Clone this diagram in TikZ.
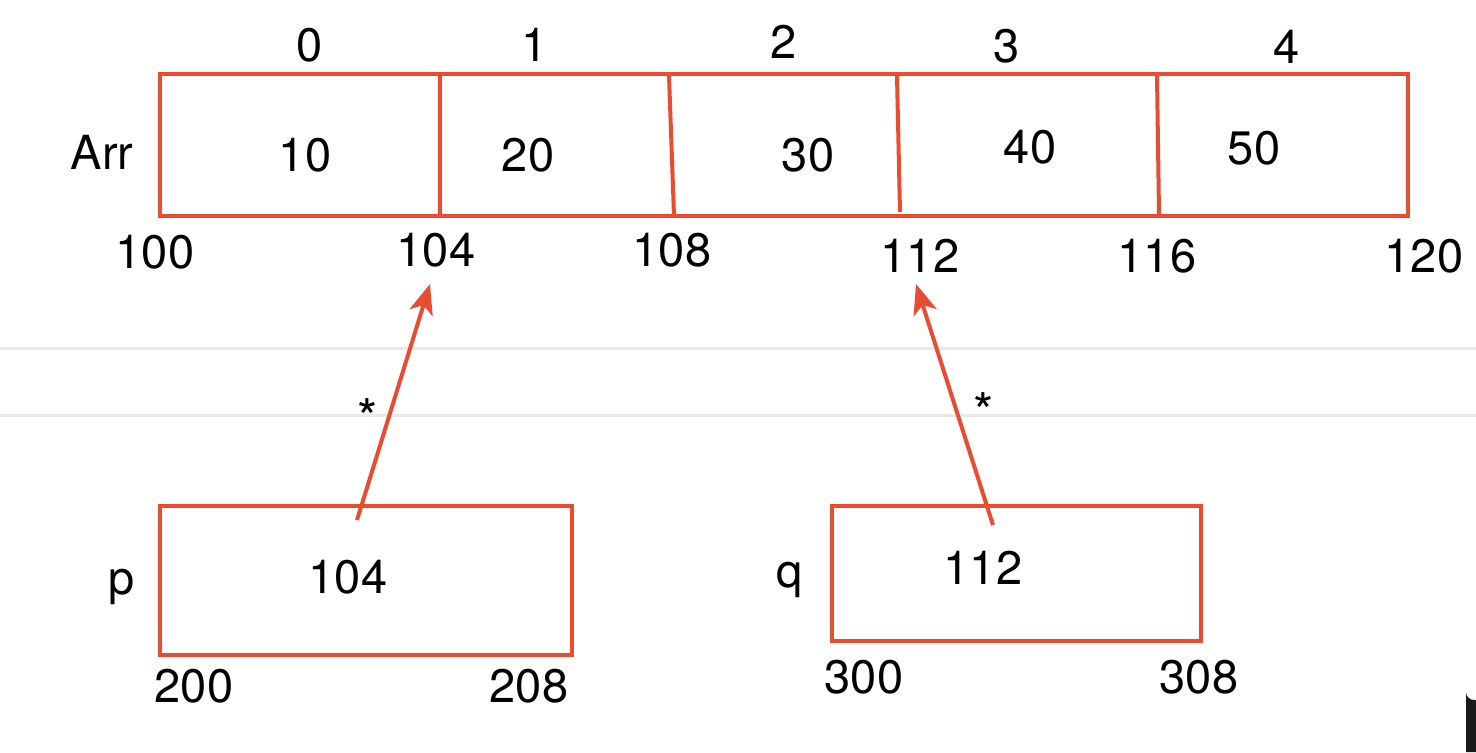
\documentclass[tikz,border=0pt]{standalone}
\usepackage{fontspec}
\setmainfont{TeX Gyre Heros}
\usetikzlibrary{arrows.meta}
\definecolor{boxred}{RGB}{234,76,50}
\definecolor{sepgray}{RGB}{232,232,232}
\tikzset{
  x=0.5pt,y=-0.5pt,
  redline/.style={draw=boxred,line width=2pt},
  lbl/.style={inner sep=0pt,anchor=center,font=\fontsize{23.5}{28}\selectfont},
  star/.style={inner sep=0pt,anchor=center,font=\fontsize{26}{28}\selectfont},
  ptr/.style={draw=boxred,line width=2pt,-{Stealth[length=15pt,width=12pt,inset=4pt]}},
  sep/.style={draw=sepgray,line width=1.5pt}
}
\begin{document}
\begin{tikzpicture}
\useasboundingbox (0,0) rectangle (1476,752);
\fill[white] (0,0) rectangle (1476,752);
% separator lines
\draw[sep] (0,348) -- (1476,348);
\draw[sep] (0,415) -- (1476,415);
% array
\draw[redline] (160,74) rectangle (1408,216);
\coordinate (d1t) at (440,74);  \coordinate (d1b) at (440,216);
\coordinate (d2t) at (669,76);  \coordinate (d2b) at (674,216);
\coordinate (d3t) at (897,76);  \coordinate (d3b) at (900,212);
\coordinate (d4t) at (1157,76); \coordinate (d4b) at (1159,214);
\draw[redline] (d1t) -- (d1b);
\draw[redline] (d2t) -- (d2b);
\draw[redline] (d3t) -- (d3b);
\draw[redline] (d4t) -- (d4b);
% indices
\node[lbl] (i0) at (310,45) {0};
\node[lbl] (i1) at (535,45) {1};
\node[lbl] (i2) at (784,42) {2};
\node[lbl] (i3) at (1007,46) {3};
\node[lbl] (i4) at (1287,47) {4};
\node[lbl] (arr) at (102,152) {Arr};
% values
\node[lbl] (v0) at (305,155) {10};
\node[lbl] (v1) at (528,155) {20};
\node[lbl] (v2) at (808,155) {30};
\node[lbl] (v3) at (1030,147) {40};
\node[lbl] (v4) at (1254,148) {50};
% addresses
\node[lbl] (a0) at (155,252) {100};
\node[lbl] (a1) at (436,250) {104};
\node[lbl] (a2) at (672,250) {108};
\node[lbl] (a3) at (920,256) {112};
\node[lbl] (a4) at (1157,256) {116};
\node[lbl] (a5) at (1424,256) {120};
% pointer boxes
\draw[redline] (160,506) rectangle (572,655);
\draw[redline] (832,506) rectangle (1201,641);
\node[lbl] (pv) at (348,577) {104};
\node[lbl] (qv) at (983,568) {112};
\node[lbl] (pn) at (122,587) {p};
\node[lbl] (qn) at (790,580) {q};
\node[lbl] (pa0) at (194,686) {200};
\node[lbl] (pa1) at (529,686) {208};
\node[lbl] (qa0) at (864,677) {300};
\node[lbl] (qa1) at (1199,677) {308};
% arrows
\coordinate (ps) at (357,520);
\coordinate (pt) at (430,284);
\coordinate (qs) at (993,525);
\coordinate (qt) at (916,284);
\draw[ptr] (ps) -- (pt);
\draw[ptr] (qs) -- (qt);
\node[star] (s1) at (368,418) {*};
\node[star] (s2) at (984,412) {*};
% corner artifact
\fill[black!90] (1476,700) -- (1474,700) arc[start angle=90,end angle=180,radius=8] -- (1466,752) -- (1476,752) -- cycle;
\end{tikzpicture}
\end{document}
